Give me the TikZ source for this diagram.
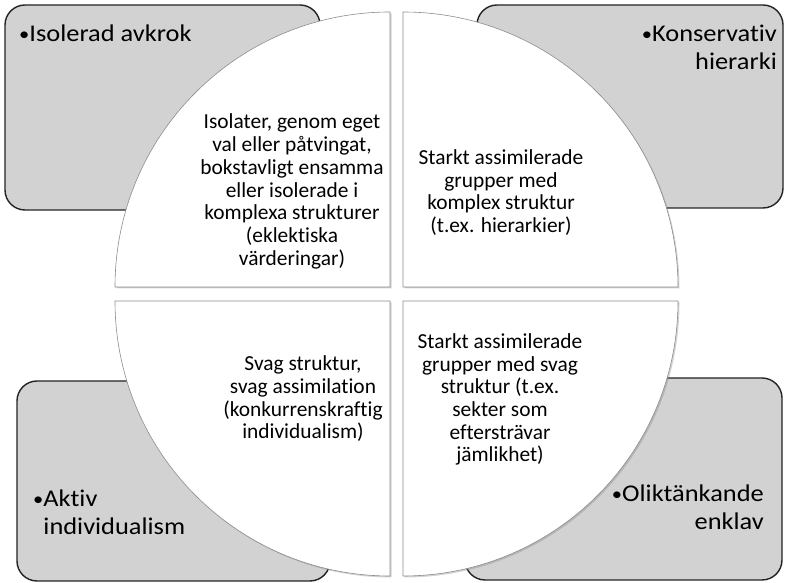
\documentclass[tikz,border=0pt]{standalone}
\usepackage{fontspec}
\usepackage{graphicx}
\setmainfont{Carlito}[Ligatures=NoCommon]
\newfontfamily\labelfont{Carlito}[FakeStretch=1.1, Ligatures=NoCommon]
\usetikzlibrary{shadows}
\definecolor{boxgray}{RGB}{210,210,210}
\definecolor{boxline}{RGB}{35,35,35}
\definecolor{quarterline}{RGB}{140,140,140}
\newcommand\itemdot{\raisebox{0.6pt}{\scalebox{0.78}{•}}}
\tikzset{
  graybox/.style={fill=boxgray, draw=boxline, line width=1.4pt, rounded corners=20pt},
  quarter/.style={fill=white, draw=quarterline, line width=0.6pt,
    drop shadow={shadow xshift=1.5pt, shadow yshift=-1.5pt, opacity=0.35}},
  outerlabel/.style={font=\labelfont\fontsize{24}{28}\selectfont, inner sep=0pt, text=black},
  innerlabel/.style={font=\fontsize{21.4}{22.7}\selectfont, align=center, inner sep=0pt, text=black}
}
\begin{document}
\begin{tikzpicture}[x=1pt,y=1pt]
\useasboundingbox (0,0) rectangle (785,583);

% grey corner boxes
\draw[graybox] (5,373) rectangle (320,578);
\draw[graybox] (477,375) rectangle (783,578);
\draw[graybox] (17,2) rectangle (330,202);
\draw[graybox] (465,3) rectangle (782,205);

% four quarter discs forming the central circle
\draw[quarter] (390,296) -- (115,296) arc[start angle=180, end angle=90, radius=275] -- cycle;
\draw[quarter] (403,296) -- (403,571) arc[start angle=90, end angle=0, radius=275] -- cycle;
\draw[quarter] (390,282) -- (390,7) arc[start angle=270, end angle=180, radius=275] -- cycle;
\draw[quarter] (403,282) -- (678,282) arc[start angle=0, end angle=-90, radius=275] -- cycle;

% labels in the grey boxes
\node[outerlabel, anchor=base west] (isolerad) at (19,541.5) {\itemdot Isolerad avkrok};
\node[outerlabel, anchor=north east, align=right] (konservativ) at (777,558.5) {\itemdot Konservativ\\hierarki};
\node[outerlabel, anchor=north west, align=left] (aktiv) at (33,93.5) {\itemdot Aktiv\\\hphantom{\itemdot}individualism};
\node[outerlabel, anchor=north east, align=right] (olik) at (764,98.5) {\itemdot Oliktänkande\\enklav};

% texts in the quarters
\node[innerlabel] (qtl) at (292,391.5) {Isolater, genom eget\\val eller påtvingat,\\bokstavligt ensamma\\eller isolerade i\\komplexa strukturer\\(eklektiska\\värderingar)};
\node[innerlabel] (qtr) at (501,390.5) {Starkt assimilerade\\grupper med\\komplex struktur\\(t.ex. hierarkier)};
\node[innerlabel] (qbl) at (303,184) {Svag struktur,\\svag assimilation\\(konkurrenskraftig\\individualism)};
\node[innerlabel] (qbr) at (500,183.5) {Starkt assimilerade\\grupper med svag\\struktur (t.ex.\\sekter som\\eftersträvar\\jämlikhet)};
\end{tikzpicture}
\end{document}
